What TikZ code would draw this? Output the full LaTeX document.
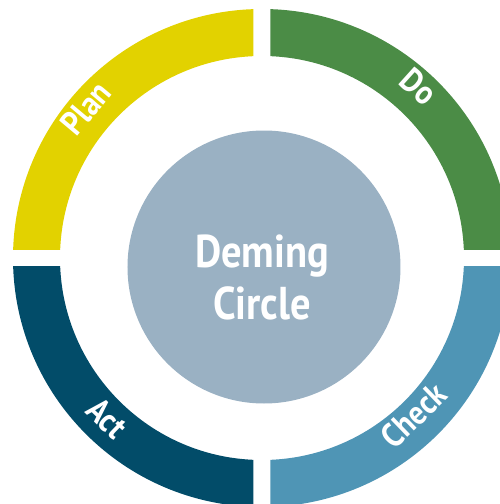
\documentclass[tikz,border=0pt]{standalone}
\usepackage{fontspec}
\newfontfamily\ringfont[FakeStretch=0.88]{PT Sans}
\definecolor{planyellow}{HTML}{E2D200}
\definecolor{dogreen}{HTML}{4B8C46}
\definecolor{checkblue}{HTML}{4F95B5}
\definecolor{actblue}{HTML}{024C69}
\definecolor{coregrey}{HTML}{9AB1C3}
\begin{document}
\begin{tikzpicture}[x=1pt,y=1pt,
  phase/.style={text=white,font=\ringfont\bfseries\fontsize{34}{34}\selectfont,
    text height=0.7em,text depth=0pt,inner sep=0pt,anchor=center},
  title/.style={text=white,font=\ringfont\bfseries\fontsize{46}{46}\selectfont,
    inner sep=0pt,anchor=base}]
\useasboundingbox (-262,-246) rectangle (238,258);
% four ring quarters, separated by a straight gap
\foreach \sx/\sy/\col in {-1/1/planyellow, 1/1/dogreen, 1/-1/checkblue, -1/-1/actblue}{
  \begin{scope}
    \clip (\sx*8.5,\sy*8.5) rectangle (\sx*300,\sy*300);
    \fill[\col,even odd rule] (0,0) circle (249pt) (0,0) circle (202pt);
  \end{scope}
}
% centre disc
\fill[coregrey] (2,-9) circle (136.5pt);
\node[title] (deming) at (0,-9) {Deming};
\node[title] (circle) at (0,-61) {Circle};
% phase labels
\node[phase,rotate=50] (plan) at (139.5:223) {Plan};
\node[phase,rotate=-42] (do) at (47.5:224) {Do};
\node[phase,rotate=44] (check) at (314:227) {Check};
\node[phase,rotate=-44] (act) at (226:231) {Act};
\end{tikzpicture}
\end{document}
